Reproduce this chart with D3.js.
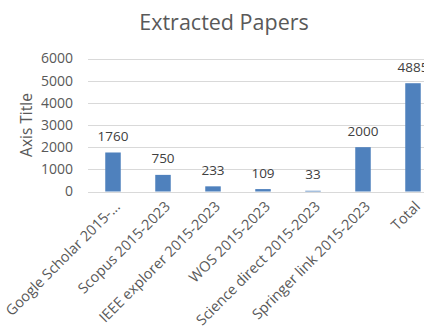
<!DOCTYPE html>
<html>
<head>
<meta charset="utf-8">
<script src="https://cdn.jsdelivr.net/npm/d3@7"></script>
<style>
  body { margin: 0; background: #fff; overflow: hidden; }
  text { font-family: "Open Sans", "Noto Sans", sans-serif; }
</style>
</head>
<body>
<div id="chart"></div>
<script>
// data
var categories = ["Google Scholar 2015-...", "Scopus 2015-2023", "IEEE explorer 2015-2023", "WOS 2015-2023",
  "Science direct 2015-2023", "Springer link 2015-2023", "Total"];
var papers = [1760, 750, 233, 109, 33, 2000, 4885];
var yTicks = [0, 1000, 2000, 3000, 4000, 5000, 6000];

var width = 424, height = 327;
var margin = {left: 88, right: -14, top: 58.5, bottom: 135.5};

var svg = d3.select("#chart").append("svg").attr("width", width).attr("height", height);

var x = d3.scaleBand().domain(categories).range([margin.left, width - margin.right]).paddingInner(0.69).paddingOuter(0.345);
var y = d3.scaleLinear().domain([0, 6000]).range([height - margin.bottom, margin.top]);

// title
svg.append("text").attr("x", 224).attr("y", 30).attr("text-anchor", "middle")
  .style("font-size", "21.5px").style("fill", "#595959").text("Extracted Papers");

// gridlines
svg.append("g").selectAll("line").data(yTicks).enter().append("line")
  .attr("x1", margin.left).attr("x2", width)
  .attr("y1", function(d) { return Math.round(y(d)) + 0.5; })
  .attr("y2", function(d) { return Math.round(y(d)) + 0.5; })
  .style("stroke", "#d9d9d9").style("stroke-width", 1);

// y axis
var yAxis = svg.append("g").attr("transform", "translate(" + (margin.left - 15) + ",0)")
  .call(d3.axisLeft(y).tickValues(yTicks).tickFormat(d3.format("d")).tickSize(0).tickPadding(0));
yAxis.select(".domain").remove();
yAxis.selectAll("text").style("font-size", "14px").style("fill", "#595959").style("font-family", "'Open Sans', sans-serif");

svg.append("text").attr("transform", "translate(32,125) rotate(-90)").attr("text-anchor", "middle")
  .style("font-size", "15.5px").style("fill", "#595959").text("Axis Title");

// bars
svg.append("g").selectAll("rect").data(papers).enter().append("rect")
  .attr("x", function(d, i) { return x(categories[i]); })
  .attr("width", x.bandwidth())
  .attr("y", function(d) { return y(d); })
  .attr("height", function(d) { return y(0) - y(d); })
  .style("fill", "#4f81bd");

// data labels
svg.append("g").selectAll("text").data(papers).enter().append("text")
  .attr("x", function(d, i) { return x(categories[i]) + x.bandwidth() / 2; })
  .attr("y", function(d) { return y(d) - 11.5; })
  .attr("text-anchor", "middle")
  .style("font-size", "13.5px").style("fill", "#404040").text(function(d) { return d; });

// x axis labels
var xAxis = svg.append("g").attr("transform", "translate(0," + y(0) + ")")
  .call(d3.axisBottom(x).tickSize(0).tickPadding(0));
xAxis.select(".domain").remove();
xAxis.selectAll("text")
  .attr("text-anchor", "end").attr("dy", null).attr("y", 0)
  .attr("transform", "translate(8,16) rotate(-45)")
  .style("font-size", "14.5px").style("fill", "#595959").style("font-family", "'Open Sans', sans-serif");
</script>
</body>
</html>
